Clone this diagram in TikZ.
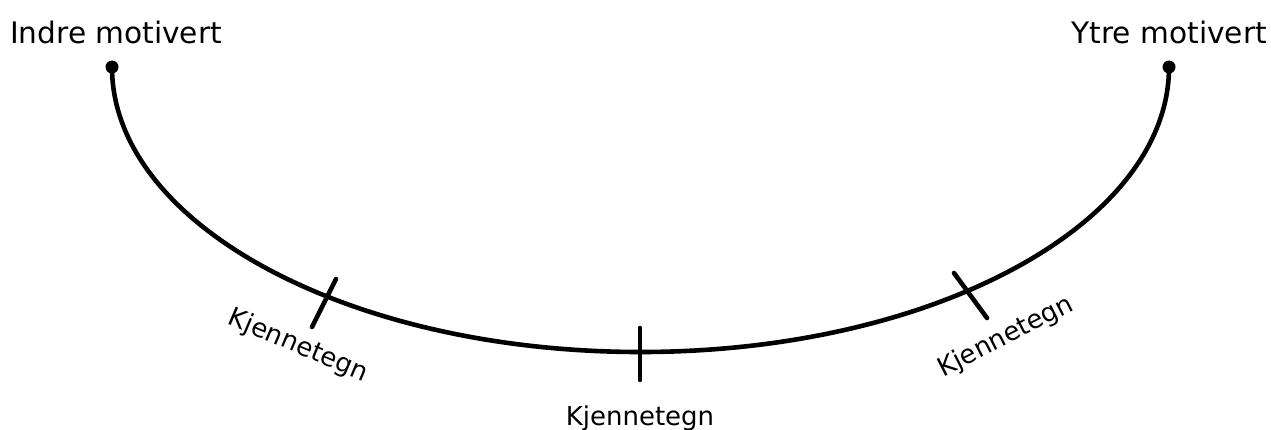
\documentclass[tikz,border=0pt]{standalone}
\usepackage{fontspec}
\setmainfont{DejaVu Sans}
\begin{document}
\begin{tikzpicture}[x=1pt,y=-1pt,
  arc/.style={line width=4.6pt},
  tick/.style={line width=4.6pt,line cap=round},
  endpt/.style={circle,fill=black,inner sep=0pt,minimum size=13pt},
  title/.style={font=\fontsize{29.6}{34}\selectfont,inner sep=0pt},
  lab/.style={font=\fontsize{26}{30}\selectfont,inner sep=0pt}]
\useasboundingbox (0,0) rectangle (1271,429);
\node[endpt] (L) at (112,67) {};
\node[endpt] (R) at (1169,67) {};
\draw[arc] (L.center) arc[start angle=180,end angle=360,x radius=528.5,y radius=-285];
% ticks
\coordinate (t1a) at (336,279); \coordinate (t1b) at (312,327);
\coordinate (t2a) at (640,328); \coordinate (t2b) at (640,380);
\coordinate (t3a) at (954,273); \coordinate (t3b) at (987,318);
\draw[tick] (t1a) -- (t1b);
\draw[tick] (t2a) -- (t2b);
\draw[tick] (t3a) -- (t3b);
\node[title,anchor=base west] (tl) at (10,43) {Indre motivert};
\node[title,anchor=base east] (tr) at (1267,43) {Ytre motivert};
\node[lab,anchor=base] (k2) at (640,425) {Kjennetegn};
\node[lab,rotate=-23] (k1) at (298,346) {Kjennetegn};
\node[lab,rotate=27] (k3) at (1006,337) {Kjennetegn};
\end{tikzpicture}
\end{document}
